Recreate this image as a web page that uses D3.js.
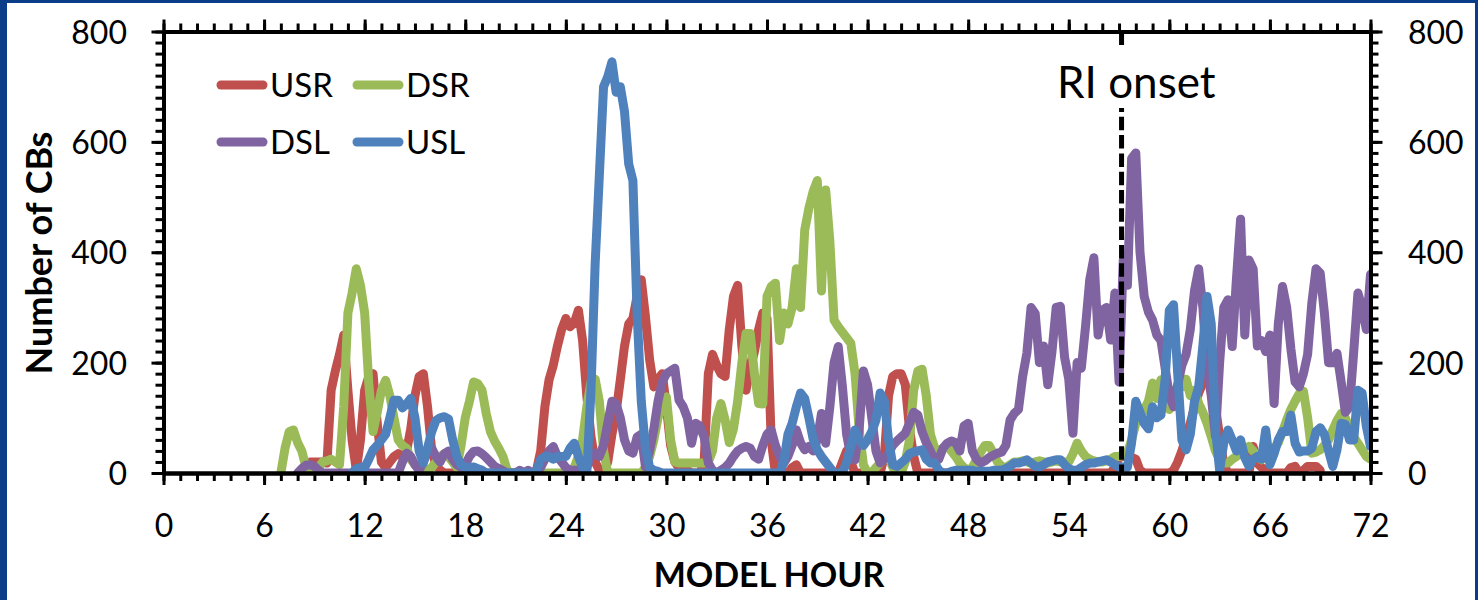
<!DOCTYPE html>
<html><head><meta charset="utf-8">
<script src="https://cdn.jsdelivr.net/npm/d3@7"></script>
<style>
html,body{margin:0;padding:0;background:#fff;}
svg{display:block;font-family:Lato,"Open Sans",sans-serif;}
</style></head><body>
<svg id="chart" width="1478" height="600"></svg>
<script>
// ---- data ----
const startHour = 7, stepHour = 0.25;   // values below are every 15 min from hour 7 to 72
const xTickLabels = [0, 6, 12, 18, 24, 30, 36, 42, 48, 54, 60, 66, 72];
const yTickLabels = [0, 200, 400, 600, 800];
const seriesNames = ["USR", "DSR", "DSL", "USL"];
const seriesColors = ["#c0504d", "#9bbb59", "#8064a2", "#4f81bd"];
const riOnsetHour = 57.15;
const riLabel = "RI onset";

const usr = [
null,null,null,null, null,null,15,20, 20,20,20,18, 150,185,215,250, 150,60,5,60,
150,175,180,90, 20,10,20,30, 35,30,40,80, 140,175,180,120, 40,15,5,0,
0,0,0,0, 0,0,0,0, 0,0,0,0, 0,0,0,0, 0,0,0,0,
0,5,40,120, 169,195,230,260, 280,265,272,295, 240,140,66,20, 5,0,20,70,
110,169,230,270, 280,320,350,283, 205,156,170,180, 120,50,20,10, 5,5,0,0,
0,20,180,215, 195,180,175,260, 320,340,230,150, 190,220,260,290, 280,60,0,0,
0,0,10,15, 0,0,0,0, 0,0,0,0, 0,0,20,40, 20,0,0,0,
0,0,0,0, 30,140,175,180, 180,160,80,30, 0,0,0,0, 0,0,0,0,
0,0,0,0, 0,0,0,0, 0,0,0,0, 0,0,0,0, 0,0,0,0,
0,0,0,0, 0,0,0,0, 0,0,0,0, 0,0,0,0, 0,0,0,10,
28,30,30,28, 25,5,0,0, 0,0,0,0, 0,5,20,40, 66,90,120,145,
163,168,160,120, 66,15,0,0, 0,0,0,0, 48,18,10,5, 0,0,0,0,
0,10,12,0, 5,12,12,12, 5];

const dsr = [
0,45,75,78, 55,40,10,5, 5,10,20,22, 25,20,15,120, 290,326,370,340,
290,160,75,110, 150,168,140,100, 60,50,45,25, 15,10,5,5, 10,20,30,35,
30,20,10,50, 100,130,165,162, 150,108,75,58, 45,30,5,0, 0,0,0,0,
0,0,0,0, 0,0,0,0, 0,0,10,30, 60,120,165,170, 130,40,0,0,
0,0,0,0, 0,0,0,10, 30,60,100,120, 138,60,20,18, 18,18,18,18,
18,18,20,40, 100,126,96,55, 80,130,200,253, 253,180,126,125, 320,338,344,240,
290,270,300,370, 300,440,480,510, 530,330,513,420, 277,265,255,245, 235,180,78,15,
0,0,10,18, 25,30,10,0, 0,20,60,150, 185,188,140,70, 45,40,45,48,
40,30,18,10, 5,10,25,38, 50,50,36,20, 12,10,15,20, 20,22,20,18,
20,22,20,18, 20,22,20,20, 20,35,54,40, 30,25,22,20, 20,22,25,30,
30,32,36,60, 90,100,115,130, 163,135,169,150, 115,140,160,156, 170,140,150,126,
110,90,66,40, 24,18,18,25, 30,36,42,48, 40,30,24,30, 36,45,55,75,
96,115,130,144, 148,100,36,38, 42,50,60,78, 95,108,100,80, 65,54,42,30,
25];

const dsl = [
null,null,null,null, 0,8,14,15, 12,5,0,0, 0,0,0,0, 0,0,0,0,
0,0,0,0, 0,0,0,0, 0,20,36,30, 15,5,20,40, 45,30,20,35,
40,25,15,10, 15,30,39,40, 35,28,20,12, 8,4,0,0, 0,5,0,5,
0,0,10,25, 40,48,30,20, 10,5,5,5, 5,10,30,36, 30,50,90,130,
125,100,60,40, 36,65,70,11, 40,80,130,165, 180,185,190,132, 120,100,54,90,
85,65,18,5, 0,5,10,18, 30,40,45,48, 45,30,25,50, 70,78,50,30,
18,30,50,78, 55,42,48,40, 60,108,54,120, 200,229,156,70, 30,24,80,185,
160,100,40,18, 25,36,50,58, 65,72,90,110, 105,75,55,40, 20,25,45,54,
58,55,40,85, 90,40,25,18, 22,28,32,36, 38,50,96,108, 115,175,217,300,
289,200,230,160, 220,300,302,210, 170,72,200,190, 265,350,390,250, 295,300,241,326,
165,385,340,570, 580,400,320,292, 277,250,240,190, 140,120,160,195, 215,260,330,370,
300,190,140,66, 200,300,314,229, 350,460,250,386, 370,230,240,220, 250,126,270,338,
300,225,165,156, 180,215,308,370, 362,290,200,200, 217,165,110,120, 220,326,300,260,
360];

const usl = [
null,null,null,null, null,null,null,null, null,null,null,null, null,null,null,null, null,0,8,10,
10,25,42,50, 60,70,100,132, 132,118,125,135, 100,40,18,45, 75,95,100,102,
98,60,30,15, 10,10,11,8, 5,0,0,0, 0,0,0,0, 0,0,0,0,
0,5,25,30, 30,25,30,30, 30,45,54,30, 10,0,150,380, 540,700,718,745,
690,700,655,560, 530,290,130,45, 10,5,3,0, 0,0,0,0, 0,0,0,0,
0,0,0,0, 0,0,0,0, 0,0,0,0, 0,0,0,0, 0,0,0,0,
20,70,90,120, 145,135,100,62, 42,30,20,10, 0,0,0,20, 48,78,60,50,
60,75,96,145, 130,60,15,12, 18,25,35,38, 40,42,25,18, 18,5,0,0,
3,5,5,5, 5,5,3,3, 3,3,5,5, 5,8,12,18, 18,20,24,18,
12,11,15,20, 22,24,24,15, 8,5,5,10, 15,18,18,20, 22,24,20,15,
11,11,11,55, 130,110,90,80, 120,100,105,170, 295,305,180,60, 42,70,130,156,
230,320,270,80, 5,55,78,60, 40,60,28,12, 25,30,25,78, 15,35,60,75,
75,105,54,38, 40,40,45,75, 82,70,40,12, 42,90,88,60, 60,150,145,85,
48];

const seriesValues = [usr, dsr, dsl, usl];

// ---- drawing ----
const svg = d3.select("#chart");
const W = 1478, H = 600;
const borderColor = "#0a3d87";

svg.append("rect").attr("width", W).attr("height", H).attr("fill", "#fff");
svg.append("rect").attr("x", 0).attr("y", 0).attr("width", 7).attr("height", H).attr("fill", borderColor);
svg.append("rect").attr("x", 0).attr("y", 0).attr("width", W).attr("height", 3).attr("fill", borderColor);
svg.append("rect").attr("x", W - 3).attr("y", 0).attr("width", 3).attr("height", H).attr("fill", borderColor);

const x = d3.scaleLinear().domain([0, 72]).range([163.5, 1370.5]);
const y = d3.scaleLinear().domain([0, 800]).range([473, 31.5]);

svg.append("clipPath").attr("id", "plotclip")
  .append("rect").attr("x", x(0)).attr("y", y(800)).attr("width", x(72) - x(0)).attr("height", y(0) - y(800) - 1);

const line = d3.line()
  .defined(d => d.v != null)
  .x(d => x(d.h))
  .y(d => y(d.v))
  .curve(d3.curveLinear);

const gLines = svg.append("g").attr("clip-path", "url(#plotclip)");
seriesValues.forEach((vals, k) => {
  const pts = vals.map((v, i) => ({ h: startHour + i * stepHour, v: v }));
  gLines.append("path")
    .datum(pts)
    .attr("d", line)
    .attr("fill", "none")
    .attr("stroke", seriesColors[k])
    .attr("stroke-width", 9)
    .attr("stroke-linejoin", "round")
    .attr("stroke-linecap", "round");
});

// axes
const minorX = d3.range(0, 73, 1);
const minorY = d3.range(0, 801, 20);
function styleAxis(g) {
  g.select(".domain").attr("stroke", "#000").attr("stroke-width", 4);
  g.selectAll(".tick line").attr("stroke", "#000").attr("stroke-width", 3);
  g.selectAll("text").attr("fill", "#000").style("font-size", "32px").style("font-family", "Lato, 'Open Sans', sans-serif");
}

// bottom
svg.append("g").attr("transform", `translate(0,${y(0)})`)
  .call(d3.axisBottom(x).tickValues(minorX).tickSize(8).tickSizeOuter(0).tickFormat(""))
  .call(styleAxis);
const gb = svg.append("g").attr("transform", `translate(0,${y(0)})`)
  .call(d3.axisBottom(x).tickValues(xTickLabels).tickSize(12).tickSizeOuter(0).tickFormat(d => d))
  .call(styleAxis);
gb.selectAll("text").attr("y", 63.5).attr("dy", 0);

// top
svg.append("g").attr("transform", `translate(0,${y(800)})`)
  .call(d3.axisTop(x).tickValues(minorX).tickSize(8).tickSizeOuter(0).tickFormat(""))
  .call(styleAxis);
svg.append("g").attr("transform", `translate(0,${y(800)})`)
  .call(d3.axisTop(x).tickValues(xTickLabels).tickSize(12).tickSizeOuter(0).tickFormat(""))
  .call(styleAxis);

// left
svg.append("g").attr("transform", `translate(${x(0)},0)`)
  .call(d3.axisLeft(y).tickValues(minorY).tickSize(8).tickSizeOuter(0).tickFormat(""))
  .call(styleAxis);
const gl = svg.append("g").attr("transform", `translate(${x(0)},0)`)
  .call(d3.axisLeft(y).tickValues(yTickLabels).tickSize(12).tickSizeOuter(0).tickFormat(d => d))
  .call(styleAxis);
gl.selectAll("text").attr("x", -36.5).attr("dy", "0.36em");

// right
svg.append("g").attr("transform", `translate(${x(72)},0)`)
  .call(d3.axisRight(y).tickValues(minorY).tickSize(8).tickSizeOuter(0).tickFormat(""))
  .call(styleAxis);
const gr = svg.append("g").attr("transform", `translate(${x(72)},0)`)
  .call(d3.axisRight(y).tickValues(yTickLabels).tickSize(12).tickSizeOuter(0).tickFormat(d => d))
  .call(styleAxis);
gr.selectAll("text").attr("x", 37.5).attr("dy", "0.36em");

// axis titles
svg.append("text")
  .attr("x", 769).attr("y", 587)
  .attr("text-anchor", "middle")
  .style("font-size", "34px").style("font-weight", "bold")
  .text("MODEL HOUR");
svg.append("text")
  .attr("transform", "translate(51.5,253) rotate(-90)")
  .attr("text-anchor", "middle")
  .style("font-size", "36px").style("font-weight", "bold")
  .text("Number of CBs");

// RI onset
const xr = x(riOnsetHour);
svg.append("line").attr("x1", xr).attr("x2", xr).attr("y1", y(800)).attr("y2", 45)
  .attr("stroke", "#000").attr("stroke-width", 5);
svg.append("line").attr("x1", xr).attr("x2", xr).attr("y1", 108).attr("y2", y(0))
  .attr("stroke", "#000").attr("stroke-width", 5)
  .attr("stroke-dasharray", "13.5,4.8").attr("stroke-dashoffset", 9.5);
svg.append("text").attr("x", 1057).attr("y", 98)
  .style("font-size", "44px").text(riLabel);

// legend
const legendPos = [
  { lx: 221, ly: 85 }, { lx: 357, ly: 85 },
  { lx: 221, ly: 142 }, { lx: 357, ly: 142 }
];
const lg = svg.append("g");
seriesNames.forEach((name, k) => {
  const p = legendPos[k];
  lg.append("line").attr("x1", p.lx).attr("x2", p.lx + 42).attr("y1", p.ly).attr("y2", p.ly)
    .attr("stroke", seriesColors[k]).attr("stroke-width", 9).attr("stroke-linecap", "round");
  lg.append("text").attr("x", p.lx + 49).attr("y", p.ly + 12)
    .style("font-size", "33px").text(name);
});
</script>
</body></html>
